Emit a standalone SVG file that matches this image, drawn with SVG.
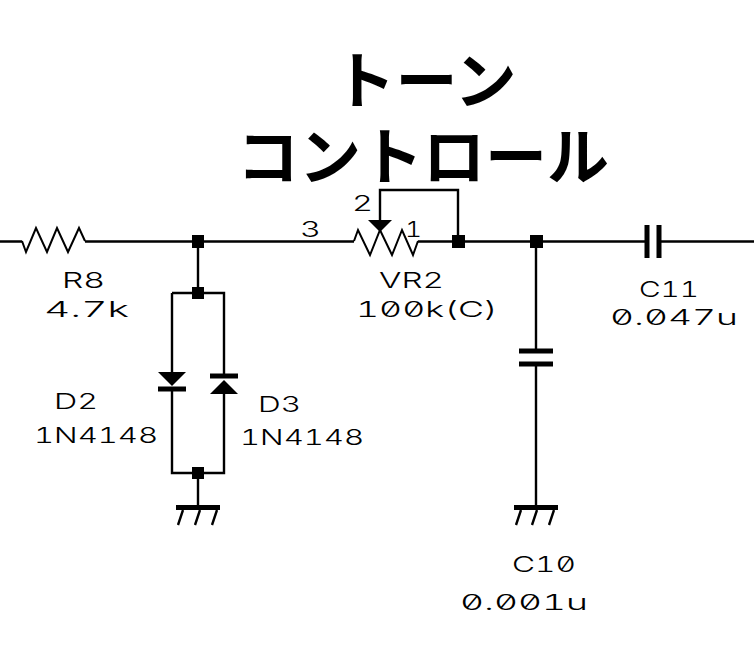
<svg xmlns="http://www.w3.org/2000/svg" width="754" height="649" viewBox="0 0 754 649">
<style>
.w{fill:none;stroke:#000;stroke-width:2.4}
.z{fill:none;stroke:#000;stroke-width:2}
.b{fill:none;stroke:#000;stroke-width:5}
.h{fill:none;stroke:#000;stroke-width:2.4}
.j{fill:#000}
.t{font-family:Inter,"Liberation Sans",sans-serif;font-feature-settings:"zero" 1,"tnum" 1;font-size:22px;font-weight:300;fill:#000}
.k{font-family:"Noto Sans CJK JP",sans-serif;font-size:62px;font-weight:700;fill:#000;text-anchor:middle}
</style>
<rect width="754" height="649" fill="#fff"/>
<g id="connectors">
<path class="w" d="M0 241.5H22M85 241.5H354M418 241.5H647M659 241.5H754"/>
<path class="w" d="M198 241V293M172 293H224V376M224 394V473H172V389M172 372V293M198 473V507"/>
<path class="w" d="M380 220V190H458V241M536 241V351M536 364V507"/>
</g>
<g id="title">
<text class="k" x="425" y="104">トーン</text>
<text class="k" x="423" y="180">コントロール</text>
</g>
<g id="R8">
<path class="z" d="M22 241L26 252L36 228L47 252L57 228L68 252L79 228L85 241"/>
<text class="t" x="62" y="288" textLength="43" lengthAdjust="spacingAndGlyphs">R8</text>
<text class="t" x="44" y="317" textLength="85" lengthAdjust="spacingAndGlyphs">4.7k</text>
</g>
<g id="VR2">
<path class="z" d="M354 241L358 230L370 255L380 230L392 255L402 230L413 255L418 241"/>
<path class="j" d="M368 220H392L380 232Z"/>
<text class="t" x="300" y="237" textLength="21" lengthAdjust="spacingAndGlyphs">3</text>
<text class="t" x="352" y="211" textLength="21" lengthAdjust="spacingAndGlyphs">2</text>
<text class="t" x="405" y="237" textLength="17" lengthAdjust="spacingAndGlyphs">1</text>
<text class="t" x="379" y="288" textLength="65" lengthAdjust="spacingAndGlyphs">VR2</text>
<text class="t" x="356" y="317" textLength="142" lengthAdjust="spacingAndGlyphs">100k(C)</text>
</g>
<g id="J1"><rect class="j" x="192" y="235" width="12" height="13"/></g>
<g id="J2"><rect class="j" x="192" y="287" width="12" height="12"/></g>
<g id="J3"><rect class="j" x="192" y="467" width="12" height="12"/></g>
<g id="J4"><rect class="j" x="452" y="235" width="13" height="13"/></g>
<g id="J5"><rect class="j" x="530" y="235" width="13" height="13"/></g>
<g id="D2">
<path class="j" d="M158 372H186L172 386Z"/>
<path class="b" d="M158 389H186"/>
<text class="t" x="54" y="409" textLength="44" lengthAdjust="spacingAndGlyphs">D2</text>
<text class="t" x="34" y="443" textLength="124" lengthAdjust="spacingAndGlyphs">1N4148</text>
</g>
<g id="D3">
<path class="j" d="M210 394H238L224 380Z"/>
<path class="b" d="M210 376H238"/>
<text class="t" x="258" y="412" textLength="43" lengthAdjust="spacingAndGlyphs">D3</text>
<text class="t" x="240" y="445" textLength="124" lengthAdjust="spacingAndGlyphs">1N4148</text>
</g>
<g id="GND1">
<path class="b" d="M176 507.500H220"/>
<path class="h" d="M183 510L178 525M200 510L195 525M217 510L212 525"/>
</g>
<g id="GND2">
<path class="b" d="M514 507.500H558"/>
<path class="h" d="M521 510L516 525M537 510L532 525M554 510L549 525"/>
</g>
<g id="C11">
<path class="b" d="M647 225V258M659 225V258"/>
<text class="t" x="639" y="297" textLength="60" lengthAdjust="spacingAndGlyphs">C11</text>
<text class="t" x="610" y="325" textLength="128" lengthAdjust="spacingAndGlyphs">0.047u</text>
</g>
<g id="C10">
<path class="b" d="M519 351H553M519 364H553"/>
<text class="t" x="512" y="572" textLength="64" lengthAdjust="spacingAndGlyphs">C10</text>
<text class="t" x="460" y="610" textLength="128" lengthAdjust="spacingAndGlyphs">0.001u</text>
</g>
</svg>
